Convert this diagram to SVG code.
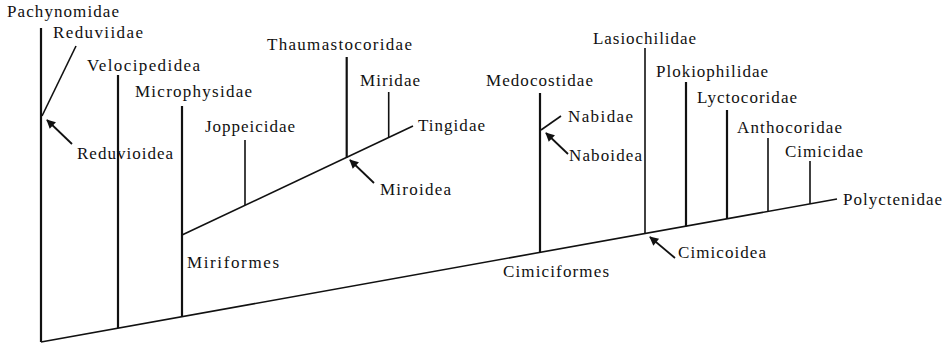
<svg xmlns="http://www.w3.org/2000/svg" width="949" height="346" viewBox="0 0 949 346">
<style>
text{font-family:"Liberation Serif","Times New Roman",serif;font-size:17px;fill:#111;}
.l{stroke:#111;stroke-width:1.6;fill:none;stroke-linecap:butt;}
.t{stroke:#111;stroke-width:2.2;fill:none;}
.a{stroke:#111;stroke-width:1.8;fill:none;marker-end:url(#ah);}
</style>
<defs>
<marker id="ah" viewBox="0 0 10 10" refX="9" refY="5" markerWidth="11" markerHeight="9" markerUnits="userSpaceOnUse" orient="auto">
<path d="M0,0 L10,5 L0,10 Z" fill="#111"/>
</marker>
</defs>
<rect width="949" height="346" fill="#fff"/>
<g id="connectors">
<line class="l" x1="41" y1="342" x2="837" y2="199"/>
<line class="l" x1="182" y1="235" x2="413" y2="126"/>
<line class="t" x1="41" y1="28" x2="41" y2="342"/>
<line class="t" x1="118" y1="75" x2="118" y2="328"/>
<line class="t" x1="182" y1="106" x2="182" y2="317"/>
<line class="l" x1="245" y1="140" x2="245" y2="205"/>
<line class="t" x1="346.7" y1="57" x2="346.7" y2="157.5"/>
<line class="l" x1="388.7" y1="92" x2="388.7" y2="137.5"/>
<line class="t" x1="540" y1="93" x2="540" y2="252.5"/>
<line class="l" x1="645" y1="48" x2="645" y2="234"/>
<line class="t" x1="686" y1="82" x2="686" y2="226.5"/>
<line class="t" x1="727" y1="110" x2="727" y2="219"/>
<line class="l" x1="768" y1="138" x2="768" y2="211.5"/>
<line class="l" x1="810" y1="161" x2="810" y2="204"/>
<line class="l" x1="76" y1="46" x2="42" y2="116"/>
<line class="l" x1="561" y1="116" x2="541" y2="130"/>
<line class="a" x1="72" y1="144" x2="47" y2="120"/>
<line class="a" x1="374" y1="183" x2="350" y2="160"/>
<line class="a" x1="568" y1="154" x2="546" y2="133"/>
<line class="a" x1="675" y1="258" x2="650" y2="237"/>
</g>
<g id="Pachynomidae"><text x="7" y="17" textLength="112" lengthAdjust="spacing">Pachynomidae</text></g>
<g id="Reduviidae"><text x="53" y="38" textLength="90" lengthAdjust="spacing">Reduviidae</text></g>
<g id="Velocipedidea"><text x="87" y="71" textLength="113" lengthAdjust="spacing">Velocipedidea</text></g>
<g id="Microphysidae"><text x="135" y="97" textLength="117" lengthAdjust="spacing">Microphysidae</text></g>
<g id="Reduvioidea"><text x="77" y="159" textLength="96" lengthAdjust="spacing">Reduvioidea</text></g>
<g id="Joppeicidae"><text x="205" y="132" textLength="90" lengthAdjust="spacing">Joppeicidae</text></g>
<g id="Thaumastocoridae"><text x="267" y="50" textLength="145" lengthAdjust="spacing">Thaumastocoridae</text></g>
<g id="Miridae"><text x="360" y="86" textLength="60" lengthAdjust="spacing">Miridae</text></g>
<g id="Tingidae"><text x="418" y="131" textLength="67" lengthAdjust="spacing">Tingidae</text></g>
<g id="Miroidea"><text x="380" y="195" textLength="71" lengthAdjust="spacing">Miroidea</text></g>
<g id="Miriformes"><text x="187" y="268" textLength="92" lengthAdjust="spacing">Miriformes</text></g>
<g id="Medocostidae"><text x="486" y="86" textLength="107" lengthAdjust="spacing">Medocostidae</text></g>
<g id="Nabidae"><text x="568" y="122" textLength="65" lengthAdjust="spacing">Nabidae</text></g>
<g id="Naboidea"><text x="569" y="161" textLength="73" lengthAdjust="spacing">Naboidea</text></g>
<g id="Lasiochilidae"><text x="593" y="44" textLength="103" lengthAdjust="spacing">Lasiochilidae</text></g>
<g id="Plokiophilidae"><text x="656" y="77" textLength="112" lengthAdjust="spacing">Plokiophilidae</text></g>
<g id="Lyctocoridae"><text x="697" y="103" textLength="100" lengthAdjust="spacing">Lyctocoridae</text></g>
<g id="Anthocoridae"><text x="737" y="133" textLength="105" lengthAdjust="spacing">Anthocoridae</text></g>
<g id="Cimicidae"><text x="785" y="157" textLength="78" lengthAdjust="spacing">Cimicidae</text></g>
<g id="Polyctenidae"><text x="843" y="205" textLength="99" lengthAdjust="spacing">Polyctenidae</text></g>
<g id="Cimiciformes"><text x="503" y="277" textLength="106" lengthAdjust="spacing">Cimiciformes</text></g>
<g id="Cimicoidea"><text x="678" y="258" textLength="88" lengthAdjust="spacing">Cimicoidea</text></g>
</svg>
